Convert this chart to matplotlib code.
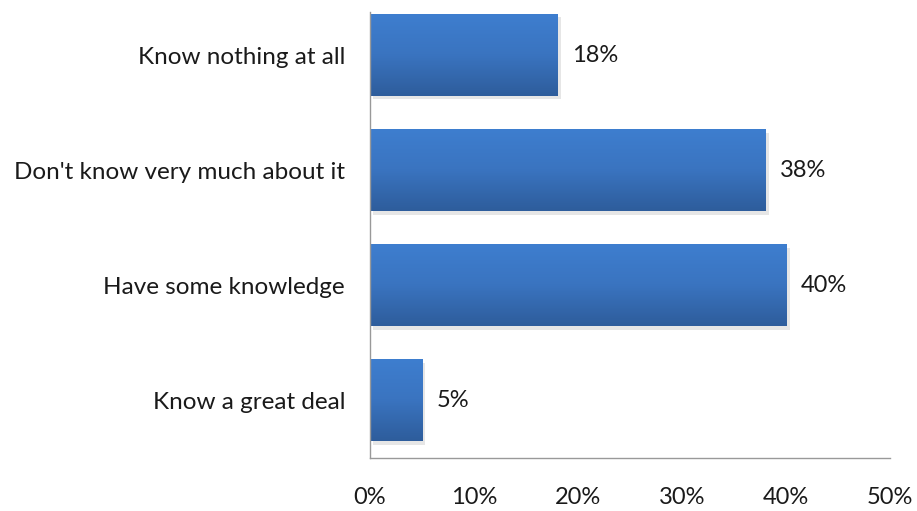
import numpy as np
import matplotlib.pyplot as plt
import matplotlib.patheffects as pe
from matplotlib.colors import LinearSegmentedColormap

plt.rcParams['font.family'] = ['Lato', 'DejaVu Sans']

# Survey answers, listed bottom to top
categories = ["Know a great deal", "Have some knowledge",
              "Don't know very much about it", "Know nothing at all"]
shares = [5, 40, 38, 18]
tick_values = [0, 10, 20, 30, 40, 50]

fig = plt.figure(figsize=(9.17, 5.11), dpi=100)
ax = fig.add_axes([0.4035, 0.1037, 0.5671, 0.8728])

ypos = np.arange(len(categories))
bars = ax.barh(ypos, shares, height=0.713, color='#3569B3',
               path_effects=[pe.SimplePatchShadow(offset=(2.5, -2.5), shadow_rgbFace='#8f8f8f', alpha=0.22),
                             pe.Normal()])

# vertical gradient fill on each bar (lighter at top)
grad = LinearSegmentedColormap.from_list('bar_grad', ['#2E5D9C', '#3A74C0', '#3E7ECF'])
gimg = np.linspace(0, 1, 64).reshape(-1, 1)
for b in bars:
    x0, y0 = b.get_x(), b.get_y()
    w, h = b.get_width(), b.get_height()
    im = ax.imshow(gimg, cmap=grad, aspect='auto', origin='lower',
                   extent=(x0, x0 + w, y0, y0 + h), zorder=b.get_zorder() + 0.1)
    im.set_clip_path(b)

for y, v in zip(ypos, shares):
    ax.annotate(f"{v}%", xy=(v, y), xytext=(10.8, 0), textcoords='offset points',
                va='center', ha='left', fontsize=17, color='#1a1a1a')

ax.set_xlim(0, 50)
ax.set_ylim(-0.504, 3.374)
ax.set_xticks(tick_values)
ax.set_xticklabels([f"{t}%" for t in tick_values], fontsize=17, color='#1a1a1a')
ax.set_yticks(ypos)
ax.set_yticklabels(categories, fontsize=17.5, color='#1a1a1a')
ax.tick_params(axis='both', length=0)
ax.tick_params(axis='x', pad=21)
ax.tick_params(axis='y', pad=18)

for side in ['top', 'right']:
    ax.spines[side].set_visible(False)
for side in ['left', 'bottom']:
    ax.spines[side].set_color('#999999')
    ax.spines[side].set_linewidth(1.0)

fig.savefig('out.png', dpi=100, facecolor='white')
